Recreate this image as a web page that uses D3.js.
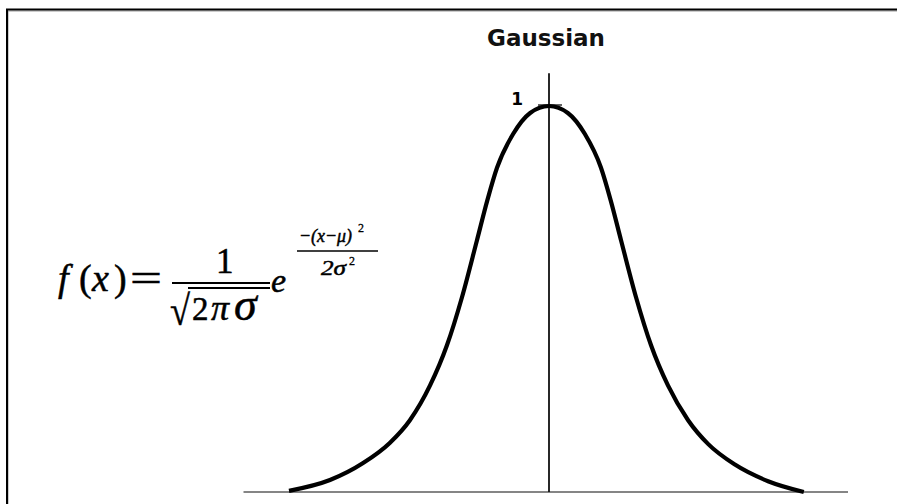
<!DOCTYPE html>
<html>
<head>
<meta charset="utf-8">
<script src="https://cdn.jsdelivr.net/npm/d3@7/dist/d3.min.js"></script>
<style>
  html, body { margin: 0; padding: 0; background: #fff; }
  svg { display: block; }
</style>
</head>
<body>
<svg id="chart" width="897" height="504"></svg>
<script>
// Bell curve, sampled points (x in sigma units, y as fraction of the peak)
const curveX = [-4.0, -3.37, -2.86, -2.45, -2.14, -1.83, -1.57, -1.34, -1.11, -0.95, -0.80, -0.55, -0.29, 0,
                0.29, 0.55, 0.80, 0.95, 1.11, 1.34, 1.57, 1.83, 2.14, 2.45, 2.86, 3.37, 3.92];
const curveY = [0.003, 0.031, 0.075, 0.127, 0.186, 0.276, 0.380, 0.504, 0.651, 0.755, 0.840, 0.928, 0.982, 1.0,
                0.982, 0.928, 0.840, 0.755, 0.651, 0.504, 0.380, 0.276, 0.186, 0.124, 0.071, 0.028, 0.0];
const tickValues = [1];
const tickLabels = ["1"];
const xExtent = [-4.7, 4.6];
const yAxisTop = 1.085;
const title = "Gaussian";

const svg = d3.select("#chart");

// page frame (open to the right and bottom)
svg.append("path").attr("d", "M8,1000 V11 H1000").attr("fill", "none")
  .attr("stroke", "#999").attr("stroke-width", 1);
svg.append("path").attr("d", "M7,1000 V9.5 H1000").attr("fill", "none")
  .attr("stroke", "#000").attr("stroke-width", 2);

const x = d3.scaleLinear().domain([-4, 4]).range([289, 809]);
const y = d3.scaleLinear().domain([0, 1]).range([492, 106]);

// horizontal baseline
svg.append("line")
  .attr("x1", x(xExtent[0])).attr("x2", x(xExtent[1]))
  .attr("y1", y(0)).attr("y2", y(0))
  .attr("stroke", "#858585").attr("stroke-width", 2);

// vertical axis through the mean
svg.append("line")
  .attr("x1", x(0)).attr("x2", x(0))
  .attr("y1", y(0)).attr("y2", y(yAxisTop))
  .attr("stroke", "#111").attr("stroke-width", 1.8);

// peak tick and its label
tickValues.forEach((v, i) => {
  svg.append("line")
    .attr("x1", x(0) - 11).attr("x2", x(0) + 13)
    .attr("y1", y(v) - 1).attr("y2", y(v) - 1)
    .attr("stroke", "#222").attr("stroke-width", 1.4);
  svg.append("text")
    .attr("x", x(0) - 26).attr("y", y(v) - 1)
    .attr("text-anchor", "end")
    .attr("font-family", "DejaVu Sans, sans-serif")
    .attr("font-weight", "bold").attr("font-size", 17)
    .text(tickLabels[i]);
});

// the curve
const pts = curveX.map((d, i) => [d, curveY[i]]);
svg.append("path")
  .datum(pts)
  .attr("d", d3.line().x(d => x(d[0])).y(d => y(d[1])).curve(d3.curveMonotoneX))
  .attr("fill", "none").attr("stroke", "#000").attr("stroke-width", 4.2);

// title
svg.append("text")
  .attr("x", 546).attr("y", 46)
  .attr("text-anchor", "middle")
  .attr("font-family", "DejaVu Sans, sans-serif")
  .attr("font-weight", "bold").attr("font-size", 23)
  .attr("fill", "#111")
  .text(title);

// density formula
const serif = "Liberation Serif, Times New Roman, serif";
const f = svg.append("g").attr("font-family", serif).attr("fill", "#000")
  .attr("stroke", "#000").attr("stroke-width", 0.5);
function glyph(t, gx, gy, size, italic, len) {
  const el = f.append("text").attr("x", gx).attr("y", gy).attr("font-size", size)
    .attr("font-style", italic ? "italic" : "normal").text(t);
  if (len) el.attr("textLength", len).attr("lengthAdjust", "spacingAndGlyphs");
  return el;
}
// base text followed by a small raised "2" inside the same text element
function withSquare(t, gx, gy, size, len, supX, supDy) {
  const el = f.append("text").attr("x", gx).attr("y", gy).attr("font-size", size);
  el.append("tspan").attr("font-style", "italic")
    .attr("textLength", len).attr("lengthAdjust", "spacingAndGlyphs").text(t);
  el.append("tspan").attr("x", supX).attr("dy", supDy)
    .attr("font-size", 12).attr("stroke-width", 0.3).text("2");
  return el;
}
glyph("f", 58, 291, 38, true);
glyph("(", 79, 291, 38, false);
glyph("x", 92, 291, 38, true);
glyph(")", 114, 291, 38, false);
glyph("=", 130, 291, 38, false, 32);
glyph("1", 216, 273, 35, false);
f.append("line").attr("x1", 172).attr("x2", 270).attr("y1", 283).attr("y2", 283)
  .attr("stroke-width", 2);
glyph("\u221A", 170, 325, 42, false, 20);
f.append("line").attr("x1", 188).attr("x2", 270).attr("y1", 288).attr("y2", 288)
  .attr("stroke-width", 1.8);
glyph("2", 192, 320, 33, false);
glyph("\u03C0", 211, 320, 36, true);
glyph("\u03C3", 234, 320, 46, true);
glyph("e", 271, 292, 34, true);
withSquare("\u2212(x\u2212\u03BC)", 299, 242, 19, 53, 358, -10);
f.append("line").attr("x1", 297).attr("x2", 378).attr("y1", 251).attr("y2", 251)
  .attr("stroke-width", 1.3);
withSquare("2\u03C3", 321, 275, 20, 25, 349, -10);
</script>
</body>
</html>
